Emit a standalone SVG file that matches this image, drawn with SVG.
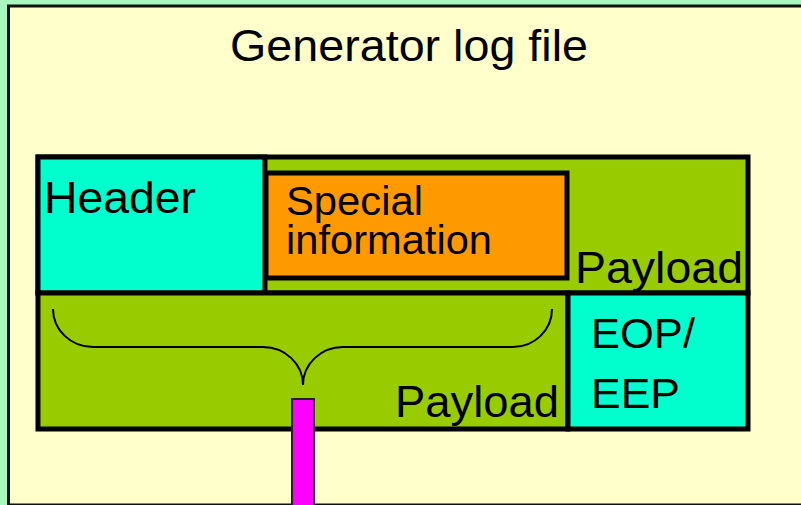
<svg xmlns="http://www.w3.org/2000/svg" width="801" height="505" viewBox="0 0 801 505">
  <style>
    .box { stroke: #000; stroke-width: 5; }
    .lbl { font-family: "Liberation Sans", Arial, sans-serif; fill: #000; }
    .green { fill: #99CC00; }
    .cyan { fill: #00FFCC; }
    .orange { fill: #FF9900; }
  </style>

  <!-- page background and panel -->
  <rect x="0" y="0" width="801" height="505" fill="#A9F6BE"/>
  <rect x="8.5" y="6" width="900" height="499" fill="#FFFFCC" stroke="#111" stroke-width="3"/>

  <text class="lbl" x="230" y="61" font-size="44" textLength="358" lengthAdjust="spacingAndGlyphs">Generator log file</text>

  <!-- upper packet: header, special information, payload -->
  <g id="upper-payload">
    <rect class="box green" x="38" y="157" width="710" height="136"/>
    <text class="lbl" x="575" y="283" font-size="45" textLength="168" lengthAdjust="spacingAndGlyphs">Payload</text>
  </g>
  <g id="header">
    <rect class="box cyan" x="38" y="157" width="227" height="136"/>
    <text class="lbl" x="44" y="213" font-size="45" textLength="152" lengthAdjust="spacingAndGlyphs">Header</text>
  </g>
  <g id="special-information">
    <rect class="box orange" x="266" y="173" width="301" height="105"/>
    <text class="lbl" x="286" y="215" font-size="41" textLength="137" lengthAdjust="spacingAndGlyphs">Special</text>
    <text class="lbl" x="286" y="254" font-size="41" textLength="206" lengthAdjust="spacingAndGlyphs">information</text>
  </g>

  <!-- lower packet: payload and end marker -->
  <g id="lower-payload">
    <rect class="box green" x="38" y="293" width="530" height="136"/>
    <text class="lbl" x="395" y="417" font-size="44" textLength="164" lengthAdjust="spacingAndGlyphs">Payload</text>
  </g>
  <g id="eop-eep">
    <rect class="box cyan" x="568" y="293" width="180" height="136"/>
    <text class="lbl" x="591" y="348" font-size="43" textLength="104" lengthAdjust="spacingAndGlyphs">EOP/</text>
    <text class="lbl" x="591" y="408" font-size="43" textLength="89" lengthAdjust="spacingAndGlyphs">EEP</text>
  </g>

  <!-- brace gathering the payload into the outgoing bar -->
  <g id="connectors">
    <path d="M53,309 A40,38 0 0 0 93,347 L263,347 A40,38 0 0 1 303,385 A40,38 0 0 1 343,347 L513,347 A39,38 0 0 0 552,309"
          fill="none" stroke="#000" stroke-width="2"/>
    <rect x="292" y="399" width="22" height="120" fill="#FF00FF" stroke="#222" stroke-width="2"/>
  </g>
</svg>
